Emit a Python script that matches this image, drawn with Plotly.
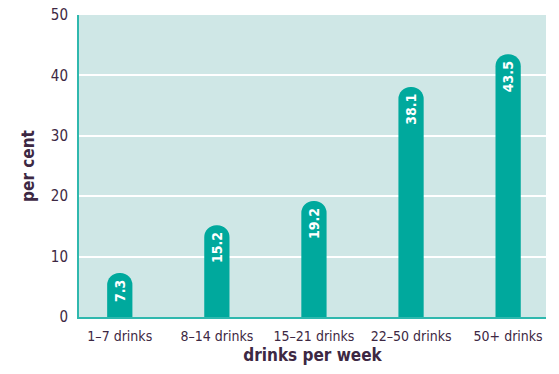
import plotly.graph_objects as go

categories = ["1\u20137 drinks", "8\u201314 drinks", "15\u201321 drinks", "22\u201350 drinks", "50+ drinks"]
values = [7.3, 15.2, 19.2, 38.1, 43.5]
y_ticks = [0, 10, 20, 30, 40, 50]

positions = list(range(len(categories)))

TEXT = "#3d2843"
BAR = "#00a99d"
PANEL = "#cfe7e6"
AXIS = "#2fb8ae"
FONT = "DejaVu Sans Condensed, Liberation Sans Narrow, sans-serif"

fig = go.Figure(
    go.Bar(
        x=positions,
        y=values,
        width=0.26,
        marker=dict(color=BAR, line=dict(width=0)),
        text=[f"{v:.1f}" for v in values],
        textposition="inside",
        insidetextanchor="end",
        textangle=-90,
        textfont=dict(color="white", size=14, family=FONT, weight="bold"),
    )
)

fig.update_layout(
    width=559,
    height=374,
    margin=dict(l=79, r=13, t=15, b=57),
    paper_bgcolor="white",
    plot_bgcolor=PANEL,
    barcornerradius=13,
    showlegend=False,
    font=dict(family=FONT, color=TEXT),
    uniformtext=dict(minsize=10, mode="show"),
)

fig.update_xaxes(
    automargin=False,
    range=[-0.42, 4.39],
    tickvals=positions,
    ticktext=categories,
    tickfont=dict(size=14, color=TEXT),
    ticks="outside",
    ticklen=5,
    tickcolor="rgba(0,0,0,0)",
    showgrid=False,
    zeroline=False,
    showline=True,
    linecolor=AXIS,
    linewidth=2,
    title=dict(text="<b>drinks per week</b>", font=dict(size=17, color=TEXT), standoff=6),
)

fig.update_yaxes(
    automargin=False,
    range=[0, 50],
    tickvals=y_ticks,
    tickfont=dict(size=15, color=TEXT),
    ticks="outside",
    ticklen=6,
    tickcolor="rgba(0,0,0,0)",
    showgrid=True,
    gridcolor="white",
    gridwidth=2,
    zeroline=False,
    showline=True,
    linecolor=AXIS,
    linewidth=2,
    title=dict(text="<b>per cent</b>", font=dict(size=17, color=TEXT), standoff=12),
)

fig.write_html("out.html")
